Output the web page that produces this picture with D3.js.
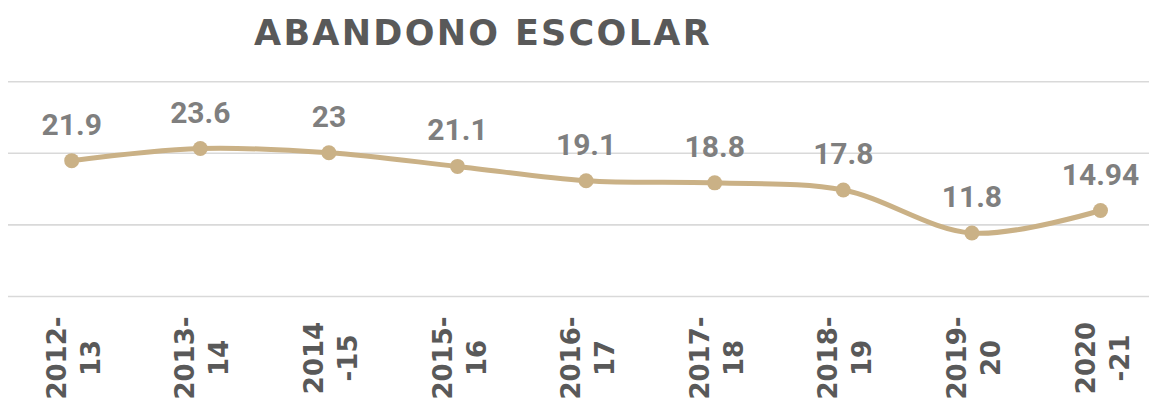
<!DOCTYPE html>
<html>
<head>
<meta charset="utf-8">
<script src="https://cdn.jsdelivr.net/npm/d3@7"></script>
<style>
  html, body { margin: 0; padding: 0; background: #fff; }
  svg { display: block; }
</style>
</head>
<body>
<svg id="chart" width="1149" height="403"></svg>
<script>
const title = "ABANDONO ESCOLAR";
const categoriesLine1 = ["2012-", "2013-", "2014", "2015-", "2016-", "2017-", "2018-", "2019-", "2020"];
const categoriesLine2 = ["13", "14", "-15", "16", "17", "18", "19", "20", "-21"];
const values = [21.9, 23.6, 23, 21.1, 19.1, 18.8, 17.8, 11.8, 14.94];
const valueLabels = ["21.9", "23.6", "23", "21.1", "19.1", "18.8", "17.8", "11.8", "14.94"];
const gridTicks = [3, 13, 23, 33];

const W = 1149, H = 403;
const svg = d3.select("#chart");

const x = d3.scaleBand()
  .domain(d3.range(values.length))
  .range([7.4, 1164.8])
  .paddingInner(0).paddingOuter(0);
const cx = i => x(i) + x.bandwidth() / 2;

const y = d3.scaleLinear().domain([3, 33]).range([296, 81.2]);

// title
svg.append("text")
  .attr("x", 254)
  .attr("y", 45)
  .attr("font-family", "'DejaVu Sans', sans-serif")
  .attr("font-weight", "bold")
  .attr("font-size", 35)
  .attr("letter-spacing", 2.3)
  .attr("fill", "#595959")
  .text(title);

// gridlines
const yAxis = d3.axisLeft(y).tickValues(gridTicks).tickSize(-(W - 8)).tickFormat("");
const gAxis = svg.append("g").attr("transform", "translate(8,0)").call(yAxis);
gAxis.select(".domain").remove();
gAxis.selectAll(".tick line").attr("stroke", "#d9d9d9").attr("stroke-width", 1.6);

// line
const line = d3.line()
  .x((d, i) => cx(i))
  .y(d => y(d))
  .curve(d3.curveCatmullRom.alpha(0.5));

svg.append("path")
  .datum(values)
  .attr("fill", "none")
  .attr("stroke", "#CAB186")
  .attr("stroke-width", 5)
  .attr("stroke-linecap", "round")
  .attr("d", line);

svg.selectAll("circle.pt")
  .data(values)
  .join("circle")
  .attr("class", "pt")
  .attr("cx", (d, i) => cx(i))
  .attr("cy", d => y(d))
  .attr("r", 7.5)
  .attr("fill", "#CAB186");

// data labels
svg.selectAll("text.lbl")
  .data(values)
  .join("text")
  .attr("class", "lbl")
  .attr("x", (d, i) => cx(i))
  .attr("y", d => y(d) - 26)
  .attr("text-anchor", "middle")
  .attr("font-family", "Roboto, sans-serif")
  .attr("font-weight", "bold")
  .attr("font-size", 30)
  .attr("fill", "#7f7f7f")
  .text((d, i) => valueLabels[i]);

// x labels (rotated, two lines)
const xl = svg.selectAll("g.xl")
  .data(values)
  .join("g")
  .attr("class", "xl")
  .attr("transform", (d, i) => `translate(${cx(i)},358) rotate(-90)`);

const t = xl.append("text")
  .attr("text-anchor", "middle")
  .attr("font-family", "'DejaVu Sans', sans-serif")
  .attr("font-weight", "bold")
  .attr("font-size", 26)
  .attr("fill", "#595959");
t.append("tspan").attr("x", 0).attr("y", -6).text((d, i) => categoriesLine1[i]);
t.append("tspan").attr("x", 0).attr("y", 28).text((d, i) => categoriesLine2[i]);
</script>
</body>
</html>
